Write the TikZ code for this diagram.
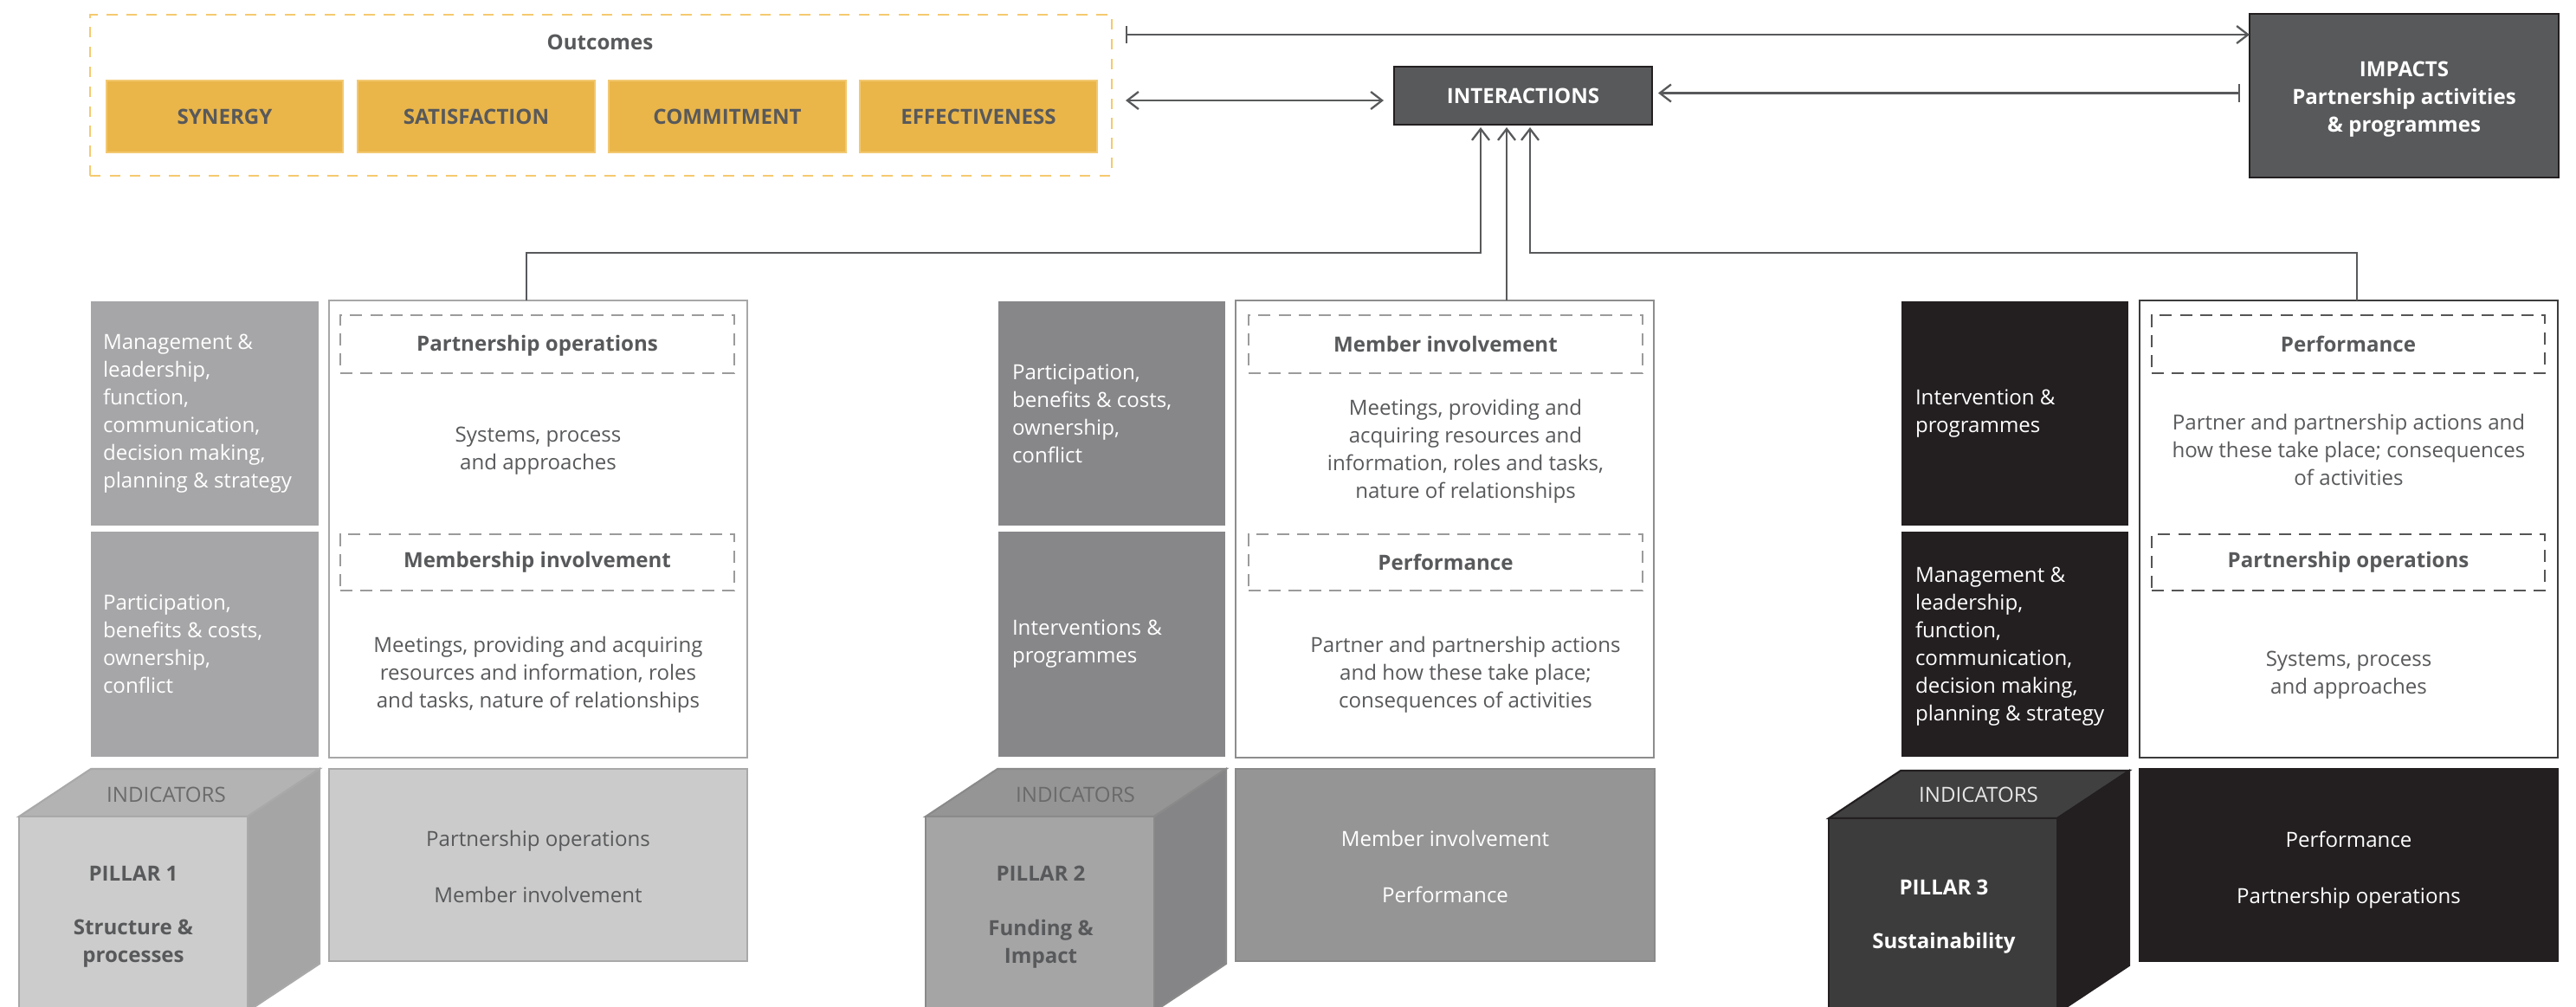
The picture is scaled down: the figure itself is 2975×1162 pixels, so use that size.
\documentclass[tikz,border=0pt]{standalone}
\usepackage{fontspec}
\setmainfont{Open Sans}
\usetikzlibrary{arrows.meta,fit,calc}
\definecolor{dtext}{HTML}{58595B}
\definecolor{ylw}{HTML}{EAB64A}
\definecolor{ylwedge}{HTML}{F2C870}
\definecolor{ylwdash}{HTML}{F5C96F}
\definecolor{darkbox}{HTML}{58595B}
\definecolor{darkedge}{HTML}{231F20}
\definecolor{lineg}{HTML}{58595B}
\definecolor{gA}{HTML}{A6A6A8}
\definecolor{gB}{HTML}{87878A}
\definecolor{gC}{HTML}{231F20}
\definecolor{wbA}{HTML}{A7A7A7}
\definecolor{wbB}{HTML}{8D8D8D}
\definecolor{wbC}{HTML}{3C3C3C}
\definecolor{dashA}{HTML}{9B9B9B}
\definecolor{dashC}{HTML}{555555}
\definecolor{indA}{HTML}{CBCBCB}
\definecolor{indAe}{HTML}{A9A9A9}
\definecolor{indB}{HTML}{959596}
\definecolor{indBe}{HTML}{8A8A8A}
\definecolor{cAf}{HTML}{CCCCCC}
\definecolor{cAt}{HTML}{B3B3B3}
\definecolor{cAr}{HTML}{A5A5A5}
\definecolor{cBf}{HTML}{A5A5A6}
\definecolor{cBt}{HTML}{959596}
\definecolor{cBr}{HTML}{858587}
\definecolor{cCf}{HTML}{3C3C3C}
\definecolor{cCt}{HTML}{404040}
\definecolor{cCr}{HTML}{231F20}
\definecolor{indtxt}{HTML}{6A6A6A}
\definecolor{indtxtC}{HTML}{E6E6E6}
\newcommand\fsz{\fontsize{6.85pt}{9.1pt}\selectfont}
\newcommand\mycube[6]{%
  \filldraw[fill=#4,draw=#6,line width=0.6pt] (#1,#2) -- ++(83,-55) -- ++(264,0) -- ++(-83,55) -- cycle;
  \filldraw[fill=#5,draw=#6,line width=0.6pt] (#1+264,#2) -- ++(83,-55) -- ++(0,225) -- ++(-83,55) -- cycle;
  \filldraw[fill=#3,draw=#6,line width=0.6pt] (#1,#2) rectangle ++(264,300);}
\begin{document}
\begin{tikzpicture}[x=0.01cm,y=-0.01cm,
  every node/.style={inner sep=0pt, outer sep=0pt, font=\fsz},
  >={Straight Barb[length=3.7pt,width=5.7pt]},
  conn/.style={draw=lineg, line width=0.65pt},
  txt/.style={text=dtext, align=center},
  hdr/.style={text=dtext, align=center, font=\fsz\bfseries},
  whdr/.style={text=white, align=center, font=\fsz\bfseries},
  ltxt/.style={text=white, align=left, anchor=west},
  outbox/.style={draw=ylwdash, line width=0.55pt, dash pattern=on 3.5pt off 3pt},
  ybox/.style={fill=ylw, draw=ylwedge, line width=0.6pt},
  dbox/.style={fill=darkbox, draw=darkedge, line width=0.6pt},
  wbox/.style={fill=white, line width=0.8pt},
  dashbox/.style={line width=0.55pt, dash pattern=on 4pt off 2.6pt},
  indbox/.style={line width=0.6pt},
]
\useasboundingbox (0,0) rectangle (2975,1162);
\clip (0,0) rectangle (2975,1162);

% ---------- Outcomes ----------
\node[outbox, fit={(104,17) (1284,203)}] (outc) {};
\node[hdr] (outt) at ($(outc.north)+(-1,32)$) {Outcomes};
\node[ybox, fit={(123,93) (396,176)}] (syn) {};
\node[ybox, fit={(413,93) (687,176)}] (sat) {};
\node[ybox, fit={(703,93) (977,176)}] (com) {};
\node[ybox, fit={(993,93) (1267,176)}] (eff) {};
\node[hdr] (synt) at (syn) {SYNERGY};
\node[hdr] (satt) at (sat) {SATISFACTION};
\node[hdr] (comt) at (com) {COMMITMENT};
\node[hdr] (efft) at (eff) {EFFECTIVENESS};

% ---------- Interactions / Impacts ----------
\node[dbox, fit={(1610,77) (1908,144)}] (inter) {};
\node[whdr] (intert) at (inter) {INTERACTIONS};
\node[dbox, fit={(2598,16) (2955,205)}] (imp) {};
\node[whdr] (impt) at ($(imp)+(0,4)$) {IMPACTS\\Partnership activities\\\& programmes};

\coordinate (a1s) at ($(outc.north east)+(16,23)$);
\draw[conn, {Bar[width=5.7pt]}->] (a1s) -- (a1s -| imp.west);
\coordinate (a2s) at ($(outc.east)+(16,6)$);
\draw[conn, <->, shorten >=0.12cm] (a2s) -- (a2s -| inter.west);
\coordinate (a3s) at ($(imp.west)+(-11,-3)$);
\draw[conn, {Bar[width=5.7pt]}->, shorten >=0.07cm] (a3s) -- (a3s -| inter.east);

% ---------- Pillar 1 ----------
\node[fill=gA, fit={(105,348) (368,607)}] (p1a) {};
\node[fill=gA, fit={(105,614) (368,874)}] (p1b) {};
\node[ltxt] (p1at) at ($(p1a.west)+(14,0)$) {Management \&\\leadership,\\function,\\communication,\\decision making,\\planning \& strategy};
\node[ltxt] (p1bt) at ($(p1b.west)+(14,0)$) {Participation,\\benefits \& costs,\\ownership,\\conflict};
\node[wbox, draw=wbA, fit={(380,347) (863,875)}] (p1w) {};
\node[dashbox, draw=dashA, fit={(393,364) (848,431)}] (p1d1) {};
\node[dashbox, draw=dashA, fit={(393,617) (848,682)}] (p1d2) {};
\node[hdr] (p1h1) at ($(p1d1)+(0,2)$) {Partnership operations};
\node[hdr] (p1h2) at (p1d2) {Membership involvement};
\node[txt] (p1t1) at ($(p1w.north)+(0,174)$) {Systems, process\\and approaches};
\node[txt] (p1t2) at ($(p1w.north)+(0,432)$) {Meetings, providing and acquiring\\resources and information, roles\\and tasks, nature of relationships};
\mycube{22}{943}{cAf}{cAt}{cAr}{indAe}
\node[text=indtxt] (p1ind) at (192,918) {INDICATORS};
\node[hdr] (p1n) at (154,1009) {PILLAR 1};
\node[hdr] (p1s) at (154,1090) {Structure \&\\processes};
\node[indbox, fill=indA, draw=indAe, fit={(380,888) (863,1110)}] (p1i) {};
\node[txt] (p1it) at ($(p1i)+(0,2)$) {Partnership operations\\[9.4pt]Member involvement};

% ---------- Pillar 2 ----------
\node[fill=gB, fit={(1153,348) (1415,607)}] (p2a) {};
\node[fill=gB, fit={(1153,614) (1415,874)}] (p2b) {};
\node[ltxt] (p2at) at ($(p2a.west)+(16,0)$) {Participation,\\benefits \& costs,\\ownership,\\conflict};
\node[ltxt] (p2bt) at ($(p2b.west)+(16,0)$) {Interventions \&\\programmes};
\node[wbox, draw=wbB, fit={(1427,347) (1910,875)}] (p2w) {};
\node[dashbox, draw=dashA, fit={(1442,364) (1897,431)}] (p2d1) {};
\node[dashbox, draw=dashA, fit={(1442,617) (1897,682)}] (p2d2) {};
\node[hdr] (p2h1) at (p2d1) {Member involvement};
\node[hdr] (p2h2) at (p2d2) {Performance};
\node[txt] (p2t1) at ($(p2w.north)+(24,174)$) {Meetings, providing and\\acquiring resources and\\information, roles and tasks,\\nature of relationships};
\node[txt] (p2t2) at ($(p2w.north)+(24,432)$) {Partner and partnership actions\\and how these take place;\\consequences of activities};
\mycube{1069}{943}{cBf}{cBt}{cBr}{indBe}
\node[text=indtxt] (p2ind) at (1242,918) {INDICATORS};
\node[hdr] (p2n) at (1202,1009) {PILLAR 2};
\node[hdr] (p2s) at (1202,1090) {Funding \&\\Impact};
\node[indbox, fill=indB, draw=indBe, fit={(1427,888) (1911,1110)}] (p2i) {};
\node[text=white, align=center] (p2it) at ($(p2i)+(0,2)$) {Member involvement\\[9.4pt]Performance};

% ---------- Pillar 3 ----------
\node[fill=gC, fit={(2196,348) (2458,607)}] (p3a) {};
\node[fill=gC, fit={(2196,614) (2458,874)}] (p3b) {};
\node[ltxt] (p3at) at ($(p3a.west)+(16,0)$) {Intervention \&\\programmes};
\node[ltxt] (p3bt) at ($(p3b.west)+(16,3)$) {Management \&\\leadership,\\function,\\communication,\\decision making,\\planning \& strategy};
\node[wbox, draw=wbC, fit={(2471,347) (2954,875)}] (p3w) {};
\node[dashbox, draw=dashC, fit={(2485,364) (2939,431)}] (p3d1) {};
\node[dashbox, draw=dashC, fit={(2485,617) (2939,682)}] (p3d2) {};
\node[hdr] (p3h1) at (p3d1) {Performance};
\node[hdr] (p3h2) at (p3d2) {Partnership operations};
\node[txt] (p3t1) at ($(p3w.north)+(0,172)$) {Partner and partnership actions and\\how these take place; consequences\\of activities};
\node[txt] (p3t2) at ($(p3w.north)+(0,433)$) {Systems, process\\and approaches};
\mycube{2112}{945}{cCf}{cCt}{cCr}{cCr}
\node[text=indtxtC] (p3ind) at (2285,918) {INDICATORS};
\node[whdr] (p3n) at (2245,1025) {PILLAR 3};
\node[whdr] (p3s) at (2245,1089) {Sustainability};
\node[indbox, fill=gC, draw=gC, fit={(2471,888) (2954,1110)}] (p3i) {};
\node[text=white, align=center] (p3it) at ($(p3i)+(0,6)$) {Performance\\[9.4pt]Partnership operations};

% ---------- connectors to INTERACTIONS ----------
\draw[conn, ->] ($(p1w.north west)+(228,0)$) -- ++(0,-55) -| ($(inter.south west)+(100,3)$);
\draw[conn, ->] ($(p2w.north west)+(313,0)$) -- ($(inter.south west)+(130,3)$);
\draw[conn, ->] ($(p3w.north west)+(251,0)$) -- ++(0,-55) -| ($(inter.south west)+(157,3)$);
\end{tikzpicture}
\end{document}
